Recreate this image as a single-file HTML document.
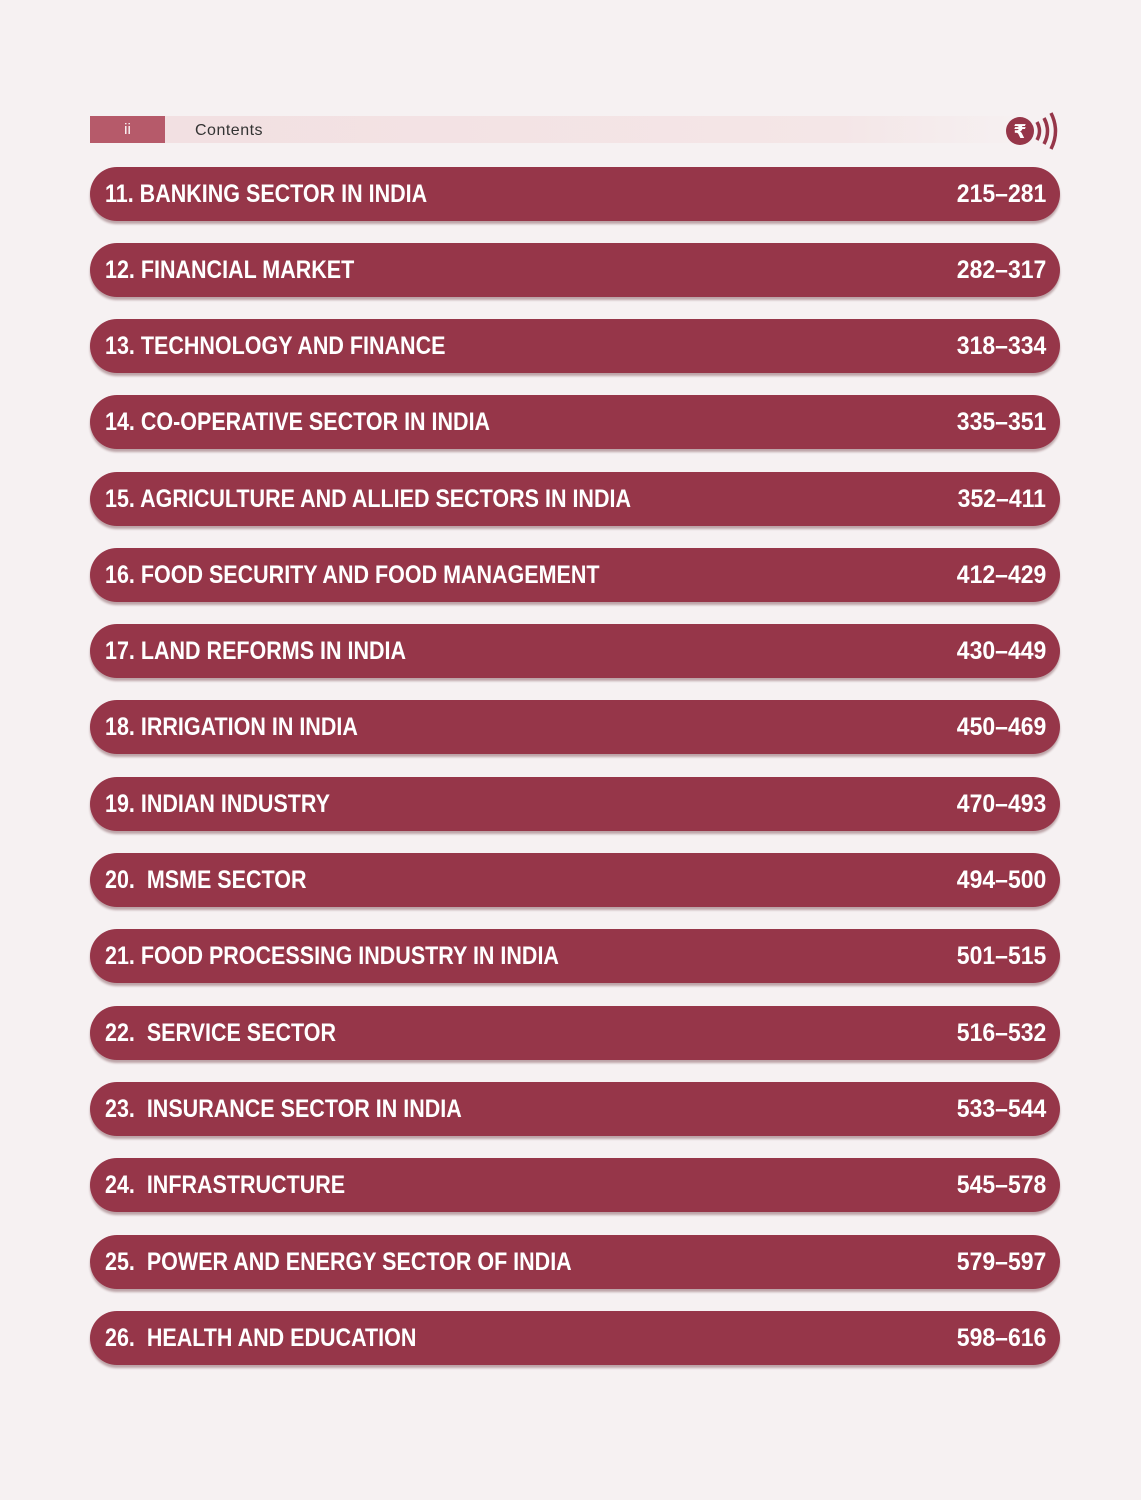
<!DOCTYPE html>
<html><head><meta charset="utf-8"><style>
html,body{margin:0;padding:0}
body{width:1141px;height:1500px;background:#f6f1f2;position:relative;overflow:hidden;font-family:"Liberation Sans",sans-serif}
.hdr{position:absolute;left:90px;top:116px;width:940px;height:27px;background:linear-gradient(90deg,#f2dfe1,#f4e6e7 80%,#f6f1f2)}
.ii{position:absolute;left:90px;top:116px;width:75px;height:27px;background:#b65a6a;color:#fff;font-size:15px;text-align:center;line-height:27px}
.ct{position:absolute;left:195px;top:116px;line-height:29px;font-size:16px;color:#333;letter-spacing:0.5px}
.bar{position:absolute;left:90px;width:970px;height:54px;background:#963649;border-radius:27px;box-shadow:0 3px 2px rgba(80,20,30,0.35);color:#fff;font-weight:bold;font-size:25px;line-height:54px}
.bar .l{position:absolute;left:15px;top:0;transform:scaleX(0.86);transform-origin:left center;white-space:nowrap}
.bar .r{position:absolute;right:14px;top:0;transform:scaleX(0.92);transform-origin:right center;white-space:nowrap}
</style></head><body>
<div class="hdr"></div><div class="ii">ii</div><div class="ct">Contents</div>
<svg style="position:absolute;left:1004px;top:110px" width="60" height="44" viewBox="0 0 60 44">
<circle cx="16" cy="21" r="14" fill="#963649"/>
<text x="16" y="28" text-anchor="middle" fill="#fff" font-family="DejaVu Sans" font-weight="bold" font-size="19">₹</text>
<path d="M33 12 Q38 21 33 30" stroke="#963649" stroke-width="3.5" fill="none"/>
<path d="M40 8 Q47 21 40 34" stroke="#963649" stroke-width="3.5" fill="none"/>
<path d="M47 3 Q56 21 47 39" stroke="#963649" stroke-width="3.5" fill="none"/>
</svg>
<div class="bar" style="top:167px"><span class="l">11. BANKING SECTOR IN INDIA</span><span class="r">215–281</span></div>
<div class="bar" style="top:243px"><span class="l">12. FINANCIAL MARKET</span><span class="r">282–317</span></div>
<div class="bar" style="top:319px"><span class="l">13. TECHNOLOGY AND FINANCE</span><span class="r">318–334</span></div>
<div class="bar" style="top:395px"><span class="l">14. CO-OPERATIVE SECTOR IN INDIA</span><span class="r">335–351</span></div>
<div class="bar" style="top:472px"><span class="l">15. AGRICULTURE AND ALLIED SECTORS IN INDIA</span><span class="r">352–411</span></div>
<div class="bar" style="top:548px"><span class="l">16. FOOD SECURITY AND FOOD MANAGEMENT</span><span class="r">412–429</span></div>
<div class="bar" style="top:624px"><span class="l">17. LAND REFORMS IN INDIA</span><span class="r">430–449</span></div>
<div class="bar" style="top:700px"><span class="l">18. IRRIGATION IN INDIA</span><span class="r">450–469</span></div>
<div class="bar" style="top:777px"><span class="l">19. INDIAN INDUSTRY</span><span class="r">470–493</span></div>
<div class="bar" style="top:853px"><span class="l">20.&nbsp; MSME SECTOR</span><span class="r">494–500</span></div>
<div class="bar" style="top:929px"><span class="l">21. FOOD PROCESSING INDUSTRY IN INDIA</span><span class="r">501–515</span></div>
<div class="bar" style="top:1006px"><span class="l">22.&nbsp; SERVICE SECTOR</span><span class="r">516–532</span></div>
<div class="bar" style="top:1082px"><span class="l">23.&nbsp; INSURANCE SECTOR IN INDIA</span><span class="r">533–544</span></div>
<div class="bar" style="top:1158px"><span class="l">24.&nbsp; INFRASTRUCTURE</span><span class="r">545–578</span></div>
<div class="bar" style="top:1235px"><span class="l">25.&nbsp; POWER AND ENERGY SECTOR OF INDIA</span><span class="r">579–597</span></div>
<div class="bar" style="top:1311px"><span class="l">26.&nbsp; HEALTH AND EDUCATION</span><span class="r">598–616</span></div>
</body></html>
